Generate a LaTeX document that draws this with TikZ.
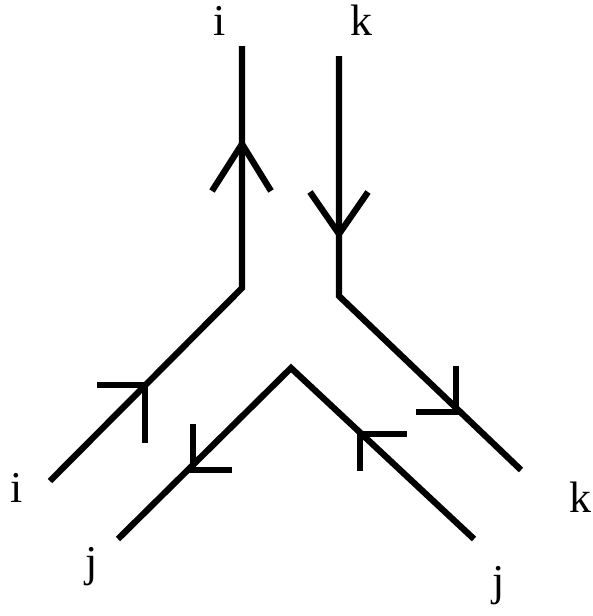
\documentclass[tikz,border=0pt]{standalone}
\usepackage{fontspec}
\setmainfont{Liberation Serif}
\begin{document}
\begin{tikzpicture}[x=1pt,y=-1pt,
  strand/.style={line width=6.3pt,black},
  lbl/.style={inner sep=0pt,anchor=base,font=\fontsize{44}{50}\selectfont}]
\useasboundingbox (0,0) rectangle (593,616);
% strand i
\coordinate (iT) at (242,46);
\coordinate (iC) at (242,288);
\coordinate (iB) at (50,481);
% strand k
\coordinate (kT) at (339,56);
\coordinate (kC) at (339,296);
\coordinate (kB) at (521,470);
% strand j
\coordinate (jL) at (118,539);
\coordinate (jA) at (291,368);
\coordinate (jR) at (474,539);
\draw[strand] (iT) -- (iC) -- (iB);
\draw[strand] (kT) -- (kC) -- (kB);
\draw[strand] (jL) -- (jA) -- (jR);
% arrowheads
\coordinate (a1) at (242,144);
\coordinate (a1l) at (212,191);
\coordinate (a1r) at (271,191);
\draw[strand] (a1l) -- (a1) -- (a1r);
\coordinate (a2) at (339,234);
\coordinate (a2l) at (310,192);
\coordinate (a2r) at (368,192);
\draw[strand] (a2l) -- (a2) -- (a2r);
\coordinate (a3) at (145,385);
\coordinate (a3h) at (97,385);
\coordinate (a3v) at (145,443);
\draw[strand] (a3h) -- (a3) -- (a3v);
\coordinate (a4) at (193,470);
\coordinate (a4v) at (193,424);
\coordinate (a4h) at (232,470);
\draw[strand] (a4v) -- (a4) -- (a4h);
\coordinate (a5) at (456,412);
\coordinate (a5v) at (456,366);
\coordinate (a5h) at (416,412);
\draw[strand] (a5v) -- (a5) -- (a5h);
\coordinate (a6) at (360,434);
\coordinate (a6h) at (407,434);
\coordinate (a6v) at (360,471);
\draw[strand] (a6h) -- (a6) -- (a6v);
% labels
\node[lbl] (li1) at (220,35) {i};
\node[lbl] (lk1) at (361,35) {k};
\node[lbl] (li2) at (17,502) {i};
\node[lbl] (lk2) at (580,512) {k};
\node[lbl] (lj1) at (92,576) {j};
\node[lbl] (lj2) at (499,595) {j};
\end{tikzpicture}
\end{document}
